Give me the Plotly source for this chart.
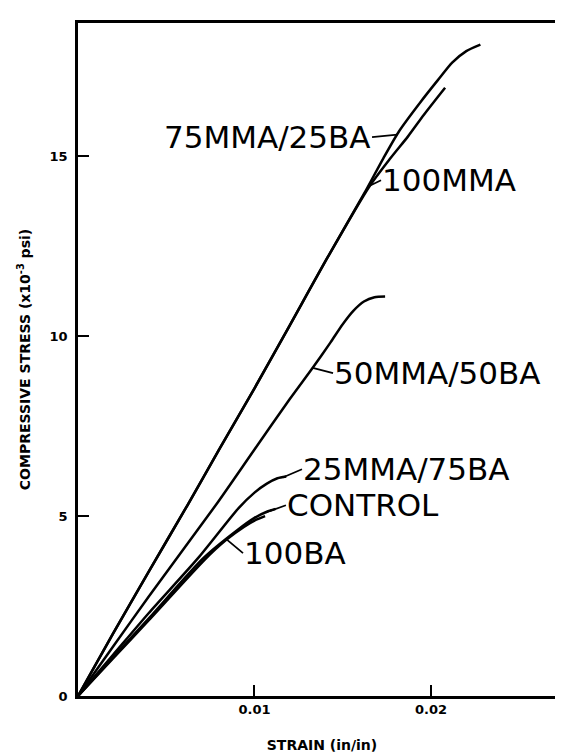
import plotly.graph_objects as go

# ---- data (strain in/in, stress x10^-3 psi) ----
mma75_x = [0, 0.002, 0.004, 0.0062, 0.008, 0.010, 0.012, 0.0141, 0.0162, 0.0173, 0.0182, 0.0194, 0.0204, 0.0212, 0.0220, 0.0228]
mma75_y = [0, 1.75, 3.45, 5.3, 6.85, 8.55, 10.3, 12.15, 13.95, 14.94, 15.7, 16.5, 17.12, 17.6, 17.92, 18.1]

mma100_x = [0, 0.002, 0.004, 0.0062, 0.008, 0.010, 0.012, 0.0141, 0.0165, 0.0177, 0.0187, 0.0196, 0.0208]
mma100_y = [0, 1.75, 3.45, 5.3, 6.85, 8.55, 10.3, 12.15, 14.15, 14.94, 15.55, 16.15, 16.9]

mma50_x = [0, 0.002, 0.004, 0.0078, 0.010, 0.012, 0.0133, 0.0143, 0.0150, 0.0156, 0.0162, 0.0168, 0.0174]
mma50_y = [0, 1.38, 2.76, 5.3, 6.85, 8.25, 9.12, 9.82, 10.33, 10.7, 10.96, 11.08, 11.1]

mma25_x = [0, 0.002, 0.004, 0.0068, 0.0091, 0.0100, 0.0107, 0.0113, 0.0118]
mma25_y = [0, 1.15, 2.3, 3.83, 5.22, 5.65, 5.9, 6.05, 6.1]

control_x = [0, 0.002, 0.004, 0.0071, 0.0090, 0.0100, 0.0107, 0.0112]
control_y = [0, 1.08, 2.15, 3.83, 4.6, 4.95, 5.12, 5.2]

ba100_x = [0, 0.002, 0.004, 0.0072, 0.0084, 0.0094, 0.0101, 0.0106]
ba100_y = [0, 1.05, 2.1, 3.8, 4.34, 4.7, 4.9, 5.0]

series = [
    ("75MMA/25BA", mma75_x, mma75_y),
    ("100MMA", mma100_x, mma100_y),
    ("50MMA/50BA", mma50_x, mma50_y),
    ("25MMA/75BA", mma25_x, mma25_y),
    ("CONTROL", control_x, control_y),
    ("100BA", ba100_x, ba100_y),
]

# label text, point on curve, label anchor point
label_names = ["75MMA/25BA", "100MMA", "50MMA/50BA", "25MMA/75BA", "CONTROL", "100BA"]
label_head_x = [0.0181, 0.0165, 0.0133, 0.0116, 0.01065, 0.0084]
label_head_y = [15.6, 14.17, 9.12, 6.07, 5.1, 4.36]
label_tail_x = [0.01666, 0.01717, 0.01445, 0.01269, 0.01178, 0.00935]
label_tail_y = [15.53, 14.33, 8.97, 6.3, 5.3, 3.97]
label_side = ["right", "left", "left", "left", "left", "left"]

x_ticks = [0.01, 0.02]
x_ticklabels = ["0.01", "0.02"]
y_ticks = [0, 5, 10, 15]
y_ticklabels = ["0", "5", "10", "15"]

fig = go.Figure()
for name, xs, ys in series:
    fig.add_trace(go.Scatter(
        x=xs, y=ys, mode="lines", name=name,
        line=dict(color="black", width=2.5, shape="spline", smoothing=0.7),
        showlegend=False, hoverinfo="skip",
    ))

for txt, hx, hy, tx, ty, side in zip(label_names, label_head_x, label_head_y,
                                     label_tail_x, label_tail_y, label_side):
    fig.add_annotation(
        x=hx, y=hy, ax=tx, ay=ty, axref="x", ayref="y", xref="x", yref="y",
        text=txt, showarrow=True, arrowhead=0, arrowwidth=1.8, arrowcolor="black",
        xanchor=side, yanchor="middle", standoff=0, startstandoff=0, borderpad=0,
        font=dict(family="DejaVu Sans", size=31, color="black"),
    )

axis_common = dict(
    showline=True, mirror=True, linecolor="black", linewidth=2.5,
    ticks="inside", ticklen=11, tickwidth=2, tickcolor="black",
    showgrid=False, zeroline=False,
    tickfont=dict(family="DejaVu Sans", size=13, color="black", weight="bold"),
)

fig.update_xaxes(
    range=[0, 0.02765], tickvals=x_ticks, ticktext=x_ticklabels,
    title=dict(text="STRAIN (in/in)", standoff=24,
               font=dict(family="DejaVu Sans", size=14, color="black", weight="bold")),
    **axis_common,
)
fig.update_yaxes(
    range=[0, 18.7], tickvals=y_ticks, ticktext=y_ticklabels,
    ticklabelstandoff=5,
    title=dict(text="COMPRESSIVE STRESS (x10<sup>-3</sup> psi)", standoff=16,
               font=dict(family="DejaVu Sans", size=14, color="black", weight="bold")),
    **axis_common,
)

fig.update_layout(
    width=563, height=752,
    margin=dict(l=70, r=5, t=15, b=64, autoexpand=False),
    paper_bgcolor="white", plot_bgcolor="white",
)

fig.write_html("out.html")
